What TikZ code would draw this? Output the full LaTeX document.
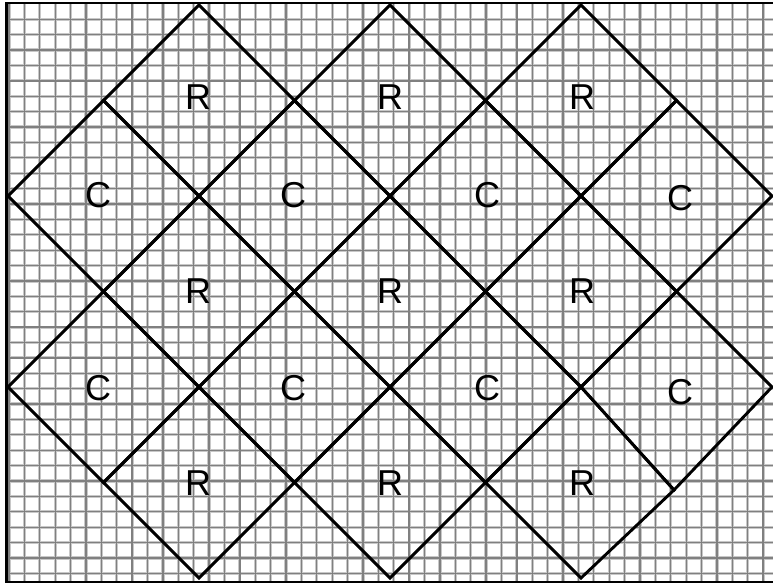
\documentclass[tikz,border=0pt]{standalone}
\usepackage{fontspec}
\setmainfont{Liberation Sans}
\definecolor{gridgray}{RGB}{128,128,128}
\definecolor{gridhalo}{RGB}{200,200,200}
\begin{document}
\begin{tikzpicture}[x=1pt,y=-1pt,
  gridhalo/.style={line width=3.2pt, color=gridhalo},
  gridline/.style={line width=1.3pt, color=gridgray},
  frame/.style={line width=2.2pt, black},
  edge/.style={line width=2.9pt, line join=miter, black},
  lbl/.style={font=\fontsize{36}{36}\selectfont, inner sep=0pt}]
\useasboundingbox (0,0) rectangle (773,583);
% background grid (light halo, then darker core)
\foreach \k in {0,...,49}
  \draw[gridhalo] ({9+15.39*\k},3) -- ({9+15.39*\k},582);
\foreach \k in {0,...,36}
  \draw[gridhalo] (6.5,{19.3+15.39*\k}) -- (776,{19.3+15.39*\k});
\foreach \k in {0,...,49}
  \draw[gridline] ({9+15.39*\k},3) -- ({9+15.39*\k},582);
\foreach \k in {0,...,36}
  \draw[gridline] (6.5,{19.3+15.39*\k}) -- (776,{19.3+15.39*\k});
% frame
\draw[frame] (6.5,3) rectangle (776,582);
% lattice of diamond corners
\foreach \i in {0,...,8}
  \foreach \j in {0,...,6}
    \coordinate (v\i-\j) at ({8+95.5*\i},{5+95.5*\j});
\coordinate (v7-5) at (674,490);
% diamonds
\foreach \i/\j in {2/1,4/1,6/1,2/3,4/3,6/3,2/5,4/5,6/5,1/2,3/2,5/2,7/2,1/4,3/4,5/4,7/4}{
  \pgfmathtruncatemacro\il{\i-1}
  \pgfmathtruncatemacro\ir{\i+1}
  \pgfmathtruncatemacro\ju{\j-1}
  \pgfmathtruncatemacro\jd{\j+1}
  \draw[edge] (v\il-\j) -- (v\i-\ju) -- (v\ir-\j) -- (v\i-\jd) -- cycle;
}
% labels
\node[lbl] (r1a) at (198,97) {R};
\node[lbl] (r1b) at (390,97) {R};
\node[lbl] (r1c) at (582,97) {R};
\node[lbl] (r2a) at (198,291) {R};
\node[lbl] (r2b) at (390,291) {R};
\node[lbl] (r2c) at (582,291) {R};
\node[lbl] (r3a) at (198,483) {R};
\node[lbl] (r3b) at (390,483) {R};
\node[lbl] (r3c) at (582,483) {R};
\node[lbl] (c1a) at (98,195) {C};
\node[lbl] (c1b) at (293,195) {C};
\node[lbl] (c1c) at (487,195) {C};
\node[lbl] (c1d) at (680,198) {C};
\node[lbl] (c2a) at (98,388) {C};
\node[lbl] (c2b) at (293,388) {C};
\node[lbl] (c2c) at (487,388) {C};
\node[lbl] (c2d) at (680,392) {C};
\end{tikzpicture}
\end{document}
